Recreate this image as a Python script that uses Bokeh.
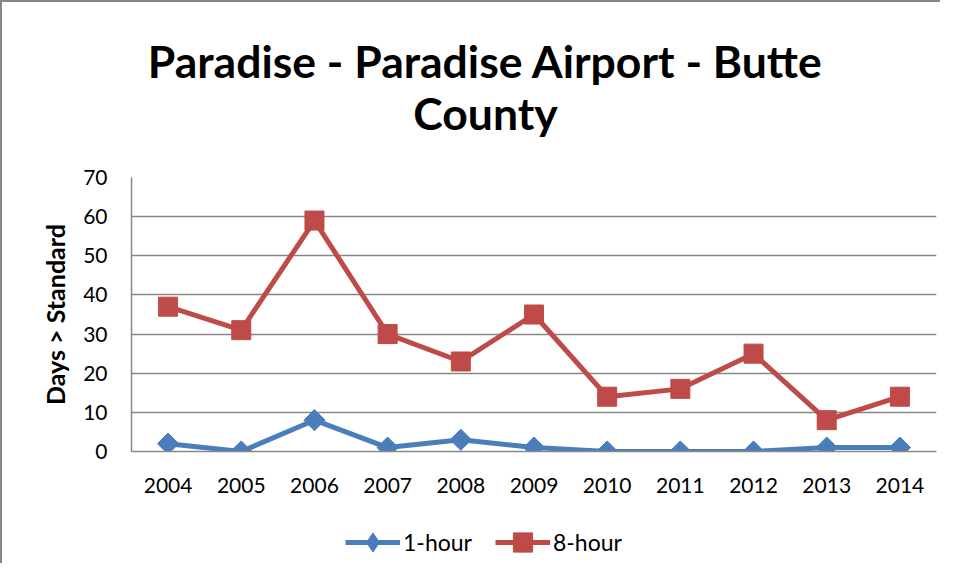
from bokeh.plotting import figure
from bokeh.layouts import column
from bokeh.models import Label, Legend, LegendItem, FactorRange, Range1d, SingleIntervalTicker
from bokeh.embed import file_html
from bokeh.resources import INLINE
import math

years = ["2004", "2005", "2006", "2007", "2008", "2009", "2010", "2011", "2012", "2013", "2014"]
one_hour = [2, 0, 8, 1, 3, 1, 0, 0, 0, 1, 1]
eight_hour = [37, 31, 59, 30, 23, 35, 14, 16, 25, 8, 14]
series_names = ["1-hour", "8-hour"]
title_lines = ["Paradise - Paradise Airport - Butte", "County"]

FONT = "Lato"
GRAY = "#878787"
BLUE = "#4A7EBB"
RED = "#BE4B48"
W = 938
FRAME_W = W - 129 - 4


def bare(fig):
    fig.outline_line_color = None
    fig.xgrid.grid_line_color = None
    fig.ygrid.grid_line_color = None
    return fig


# ---- title strip ----
tf = bare(figure(width=W, height=163, output_backend="svg", toolbar_location=None,
                 x_range=Range1d(0, FRAME_W), y_range=Range1d(0, 163),
                 x_axis_type=None, y_axis_type=None,
                 min_border_left=0, min_border_right=0, min_border_top=0, min_border_bottom=0))
for txt, yy in zip(title_lines, [105, 53]):
    tf.add_layout(Label(x=354, y=yy, text=txt, text_font=FONT, text_font_size="44.5px",
                        text_font_style="bold", text_align="center", text_baseline="alphabetic",
                        text_color="#000000"))

# ---- main chart ----
p = figure(width=W, height=347, output_backend="svg", toolbar_location=None,
           x_range=FactorRange(*years, range_padding=0), y_range=Range1d(0, 70),
           min_border_left=129, min_border_right=4, min_border_top=12, min_border_bottom=61)
p.outline_line_color = None
p.xgrid.grid_line_color = None
p.ygrid.grid_line_color = GRAY
p.ygrid.grid_line_width = 1.5
p.yaxis.ticker = SingleIntervalTicker(interval=10)

for ax in (p.xaxis[0], p.yaxis[0]):
    ax.major_tick_line_color = None
    ax.minor_tick_line_color = None
    ax.major_tick_out = 0
    ax.major_tick_in = 0
    ax.axis_line_color = GRAY
    ax.axis_line_width = 1.5
    ax.major_label_text_font = FONT
    ax.major_label_text_font_size = "21px"
    ax.major_label_text_color = "#000000"

p.yaxis.major_label_standoff = 20
p.xaxis.major_label_standoff = 26
p.yaxis.axis_label = "Days > Standard"
p.yaxis.axis_label_text_font = FONT
p.yaxis.axis_label_text_font_style = "bold"
p.yaxis.axis_label_text_font_size = "25px"
p.yaxis.axis_label_standoff = 10
p.yaxis.axis_label_text_color = "#000000"

p.line(years, one_hour, line_color=BLUE, line_width=5)
p.scatter(years, one_hour, marker="square", angle=math.pi / 4, size=15,
          fill_color=BLUE, line_color=BLUE)
p.line(years, eight_hour, line_color=RED, line_width=5)
p.scatter(years, eight_hour, marker="square", size=19, fill_color=RED, line_color=RED)

# ---- legend strip ----
lg = bare(figure(width=W, height=51, output_backend="svg", toolbar_location=None,
                 x_range=Range1d(0, 1), y_range=Range1d(0, 1),
                 x_axis_type=None, y_axis_type=None,
                 min_border_left=0, min_border_right=0, min_border_top=0, min_border_bottom=0))
off = [-5, -4]
r1l = lg.line(off, off, line_color=BLUE, line_width=5)
r1m = lg.scatter(off, off, marker="diamond", size=20, fill_color=BLUE, line_color=BLUE)
r2l = lg.line(off, off, line_color=RED, line_width=5)
r2m = lg.scatter(off, off, marker="square", size=19, fill_color=RED, line_color=RED)

legend = Legend(items=[LegendItem(label=series_names[0], renderers=[r1l, r1m], index=0),
                       LegendItem(label=series_names[1], renderers=[r2l, r2m], index=0)],
                orientation="horizontal", location=(214, -3),
                label_text_font=FONT, label_text_font_size="23px", label_text_color="#000000",
                glyph_width=55, glyph_height=48, label_standoff=3, spacing=23,
                border_line_color=None, background_fill_alpha=0, margin=0, padding=0)
lg.add_layout(legend, "center")

layout = column(tf, p, lg, spacing=0)
layout.styles = {"border-left": "2px solid #878787", "border-top": "2px solid #878787"}

open("out.html", "w").write(file_html(layout, INLINE))
